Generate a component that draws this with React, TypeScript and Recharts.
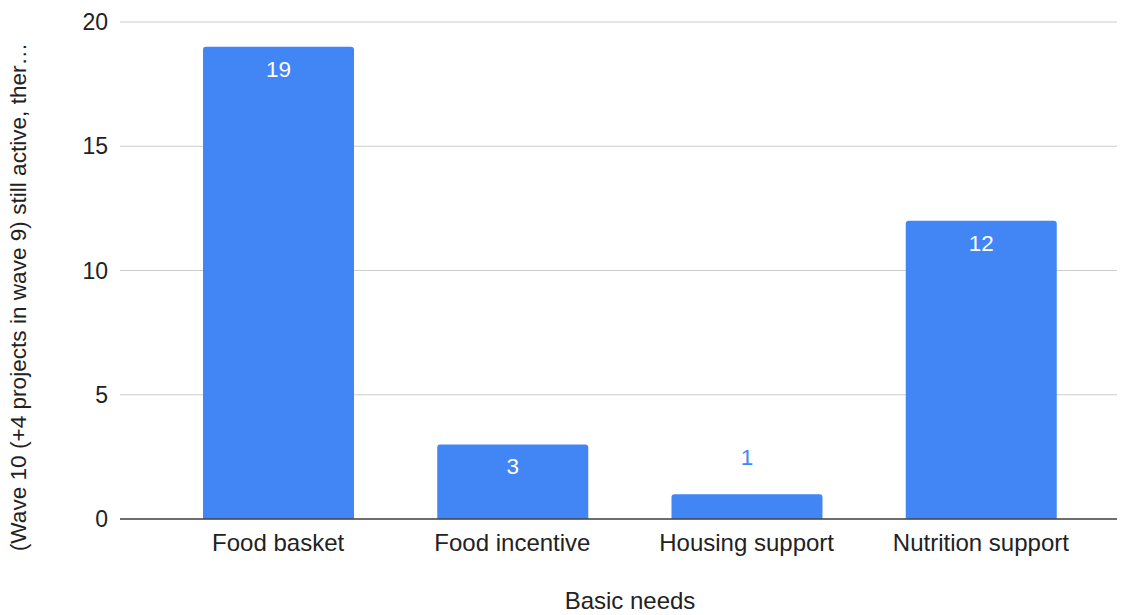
import React from 'react';
import { BarChart, Bar, XAxis, YAxis, CartesianGrid, LabelList, Label } from 'recharts';

const categories = ['Food basket', 'Food incentive', 'Housing support', 'Nutrition support'];
const counts = [19, 3, 1, 12];
const yTicks = [0, 5, 10, 15, 20];

const xTitle = 'Basic needs';
const yTitle = '(Wave 10 (+4 projects in wave 9) still active, ther…';

const data = categories.map((name, i) => ({ name, value: counts[i] }));

const FONT = 'Arial, "Liberation Sans", sans-serif';
const BLUE = '#4285f4';

const BarValue = (props: any) => {
  const { x, y, width, height, value } = props;
  const cx = x + width / 2;
  // too short to fit the number: put it above, in bar colour
  if (height < 40) {
    return (
      <text x={cx} y={y - 37} dy="0.35em" textAnchor="middle" fill={BLUE} fontSize={22.5} fontFamily={FONT}>
        {value}
      </text>
    );
  }
  return (
    <text x={cx} y={y + 22} dy="0.35em" textAnchor="middle" fill="#ffffff" fontSize={22.5} fontFamily={FONT}>
      {value}
    </text>
  );
};

const YTitle = () => (
  <text
    x={18}
    y={297}
    transform="rotate(-90, 18, 297)"
    textAnchor="middle"
    dy="0.35em"
    fontSize={22.6}
    fontFamily={FONT}
    fill="#222"
  >
    {yTitle}
  </text>
);

const XTitle = () => (
  <text x={630} y={601} textAnchor="middle" dy="0.35em" fontSize={24} fontFamily={FONT} fill="#222">
    {xTitle}
  </text>
);

export default function App() {
  return (
    <div style={{ position: 'absolute', left: 0, top: 0, background: '#fff' }}>
      <BarChart width={1129} height={615} data={data} margin={{ top: 22, right: 12, bottom: 0, left: 0 }}>
        <CartesianGrid vertical={false} stroke="#cccccc" />
        <XAxis
          dataKey="name"
          height={96}
          padding={{ left: 41, right: 19 }}
          tickLine={false}
          axisLine={{ stroke: '#444', strokeWidth: 1.5 }}
          tickMargin={9}
          tick={{ fontSize: 24, fontFamily: FONT, fill: '#222' }}
        >
          <Label content={<XTitle />} />
        </XAxis>
        <YAxis
          width={120}
          domain={[0, 20]}
          ticks={yTicks}
          axisLine={false}
          tickLine={false}
          tickMargin={6}
          tick={{ fontSize: 23, fontFamily: FONT, fill: '#222' }}
        >
          <Label content={<YTitle />} />
        </YAxis>
        <Bar dataKey="value" fill={BLUE} barSize={151} radius={[3, 3, 0, 0]} isAnimationActive={false}>
          <LabelList dataKey="value" content={<BarValue />} />
        </Bar>
      </BarChart>
    </div>
  );
}
